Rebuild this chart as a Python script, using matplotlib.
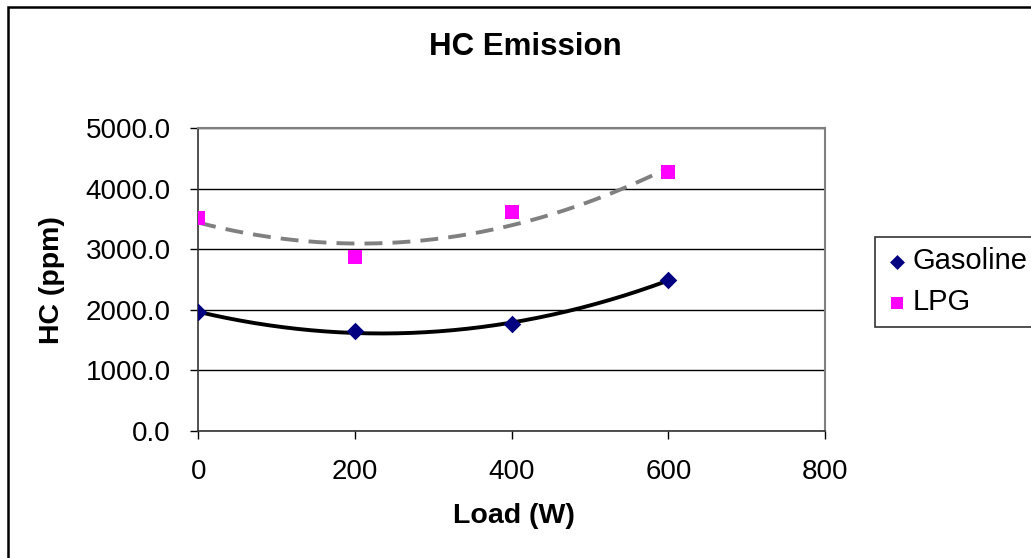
import numpy as np
import matplotlib
matplotlib.use("Agg")
import matplotlib.pyplot as plt
from matplotlib.patches import Rectangle

plt.rcParams['font.family'] = ['Liberation Sans', 'DejaVu Sans']

# data
load = [0, 200, 400, 600]
gasoline = [1960, 1645, 1765, 2495]
lpg = [3515, 2880, 3615, 4275]

fig = plt.figure(figsize=(10.31, 5.58), dpi=100)
ax = fig.add_axes([198.3 / 1031, 1 - 431 / 558, 626.7 / 1031, 302.7 / 558])

# 2nd order polynomial trendlines (as in the spreadsheet chart)
xs = np.linspace(0, 600, 200)
g_fit = np.polyval(np.polyfit(load, gasoline, 2), xs)
l_fit = np.polyval(np.polyfit(load, lpg, 2), xs)
ax.plot(xs, g_fit, color='black', lw=2.8, zorder=3, solid_capstyle='butt')
ax.plot(xs, l_fit, color='#808080', lw=2.8, dashes=(4.6, 2.6), zorder=3)

ax.scatter(load, gasoline, marker='D', s=80, color='#000080', zorder=4,
           label='Gasoline', linewidths=0)
ax.scatter(load, lpg, marker='s', s=90, color='#FF00FF', zorder=4,
           label='LPG', linewidths=0)

ax.set_xlim(0, 800)
ax.set_ylim(0, 5000)
ax.set_xticks([0, 200, 400, 600, 800])
ax.set_yticks(np.arange(0, 5001, 1000))
ax.set_yticklabels([f"{v:.1f}" for v in np.arange(0, 5001, 1000)])
ax.grid(axis='y', color='black', lw=1)
ax.set_axisbelow(True)

for s in ['top', 'right']:
    ax.spines[s].set_color('#808080')
    ax.spines[s].set_linewidth(1.5)
for s in ['left', 'bottom']:
    ax.spines[s].set_color('#333333')
    ax.spines[s].set_linewidth(1.2)

ax.tick_params(axis='both', direction='out', length=6, width=1, labelsize=20)
ax.tick_params(axis='y', pad=14)
ax.tick_params(axis='x', pad=14)

fig.text(525 / 1031, 1 - 47 / 558, 'HC Emission', ha='center', va='center',
         fontsize=22.5, fontweight='bold')
fig.text(514 / 1031, 1 - 516 / 558, 'Load (W)', ha='center', va='center',
         fontsize=20.5, fontweight='bold')
fig.text(52 / 1031, 1 - 280 / 558, 'HC (ppm)', ha='center', va='center',
         fontsize=20.5, fontweight='bold', rotation=90)

leg = ax.legend(loc='upper left', bbox_to_anchor=(875 / 1031, 1 - 237 / 558),
                bbox_transform=fig.transFigure, prop={'size': 21},
                frameon=True, fancybox=False, edgecolor='black',
                handletextpad=0.15, handlelength=0.8, borderpad=0.35,
                labelspacing=0.45, borderaxespad=0, markerscale=0.85)
leg.get_frame().set_linewidth(1.2)

# outer chart border (cut off on the right and bottom)
fig.patches.append(Rectangle((8 / 1031, -0.1), 1.2, 1 - 7.5 / 558 + 0.1,
                             transform=fig.transFigure, fill=False,
                             edgecolor='black', lw=1.8))

fig.savefig('out.png', dpi=100)
